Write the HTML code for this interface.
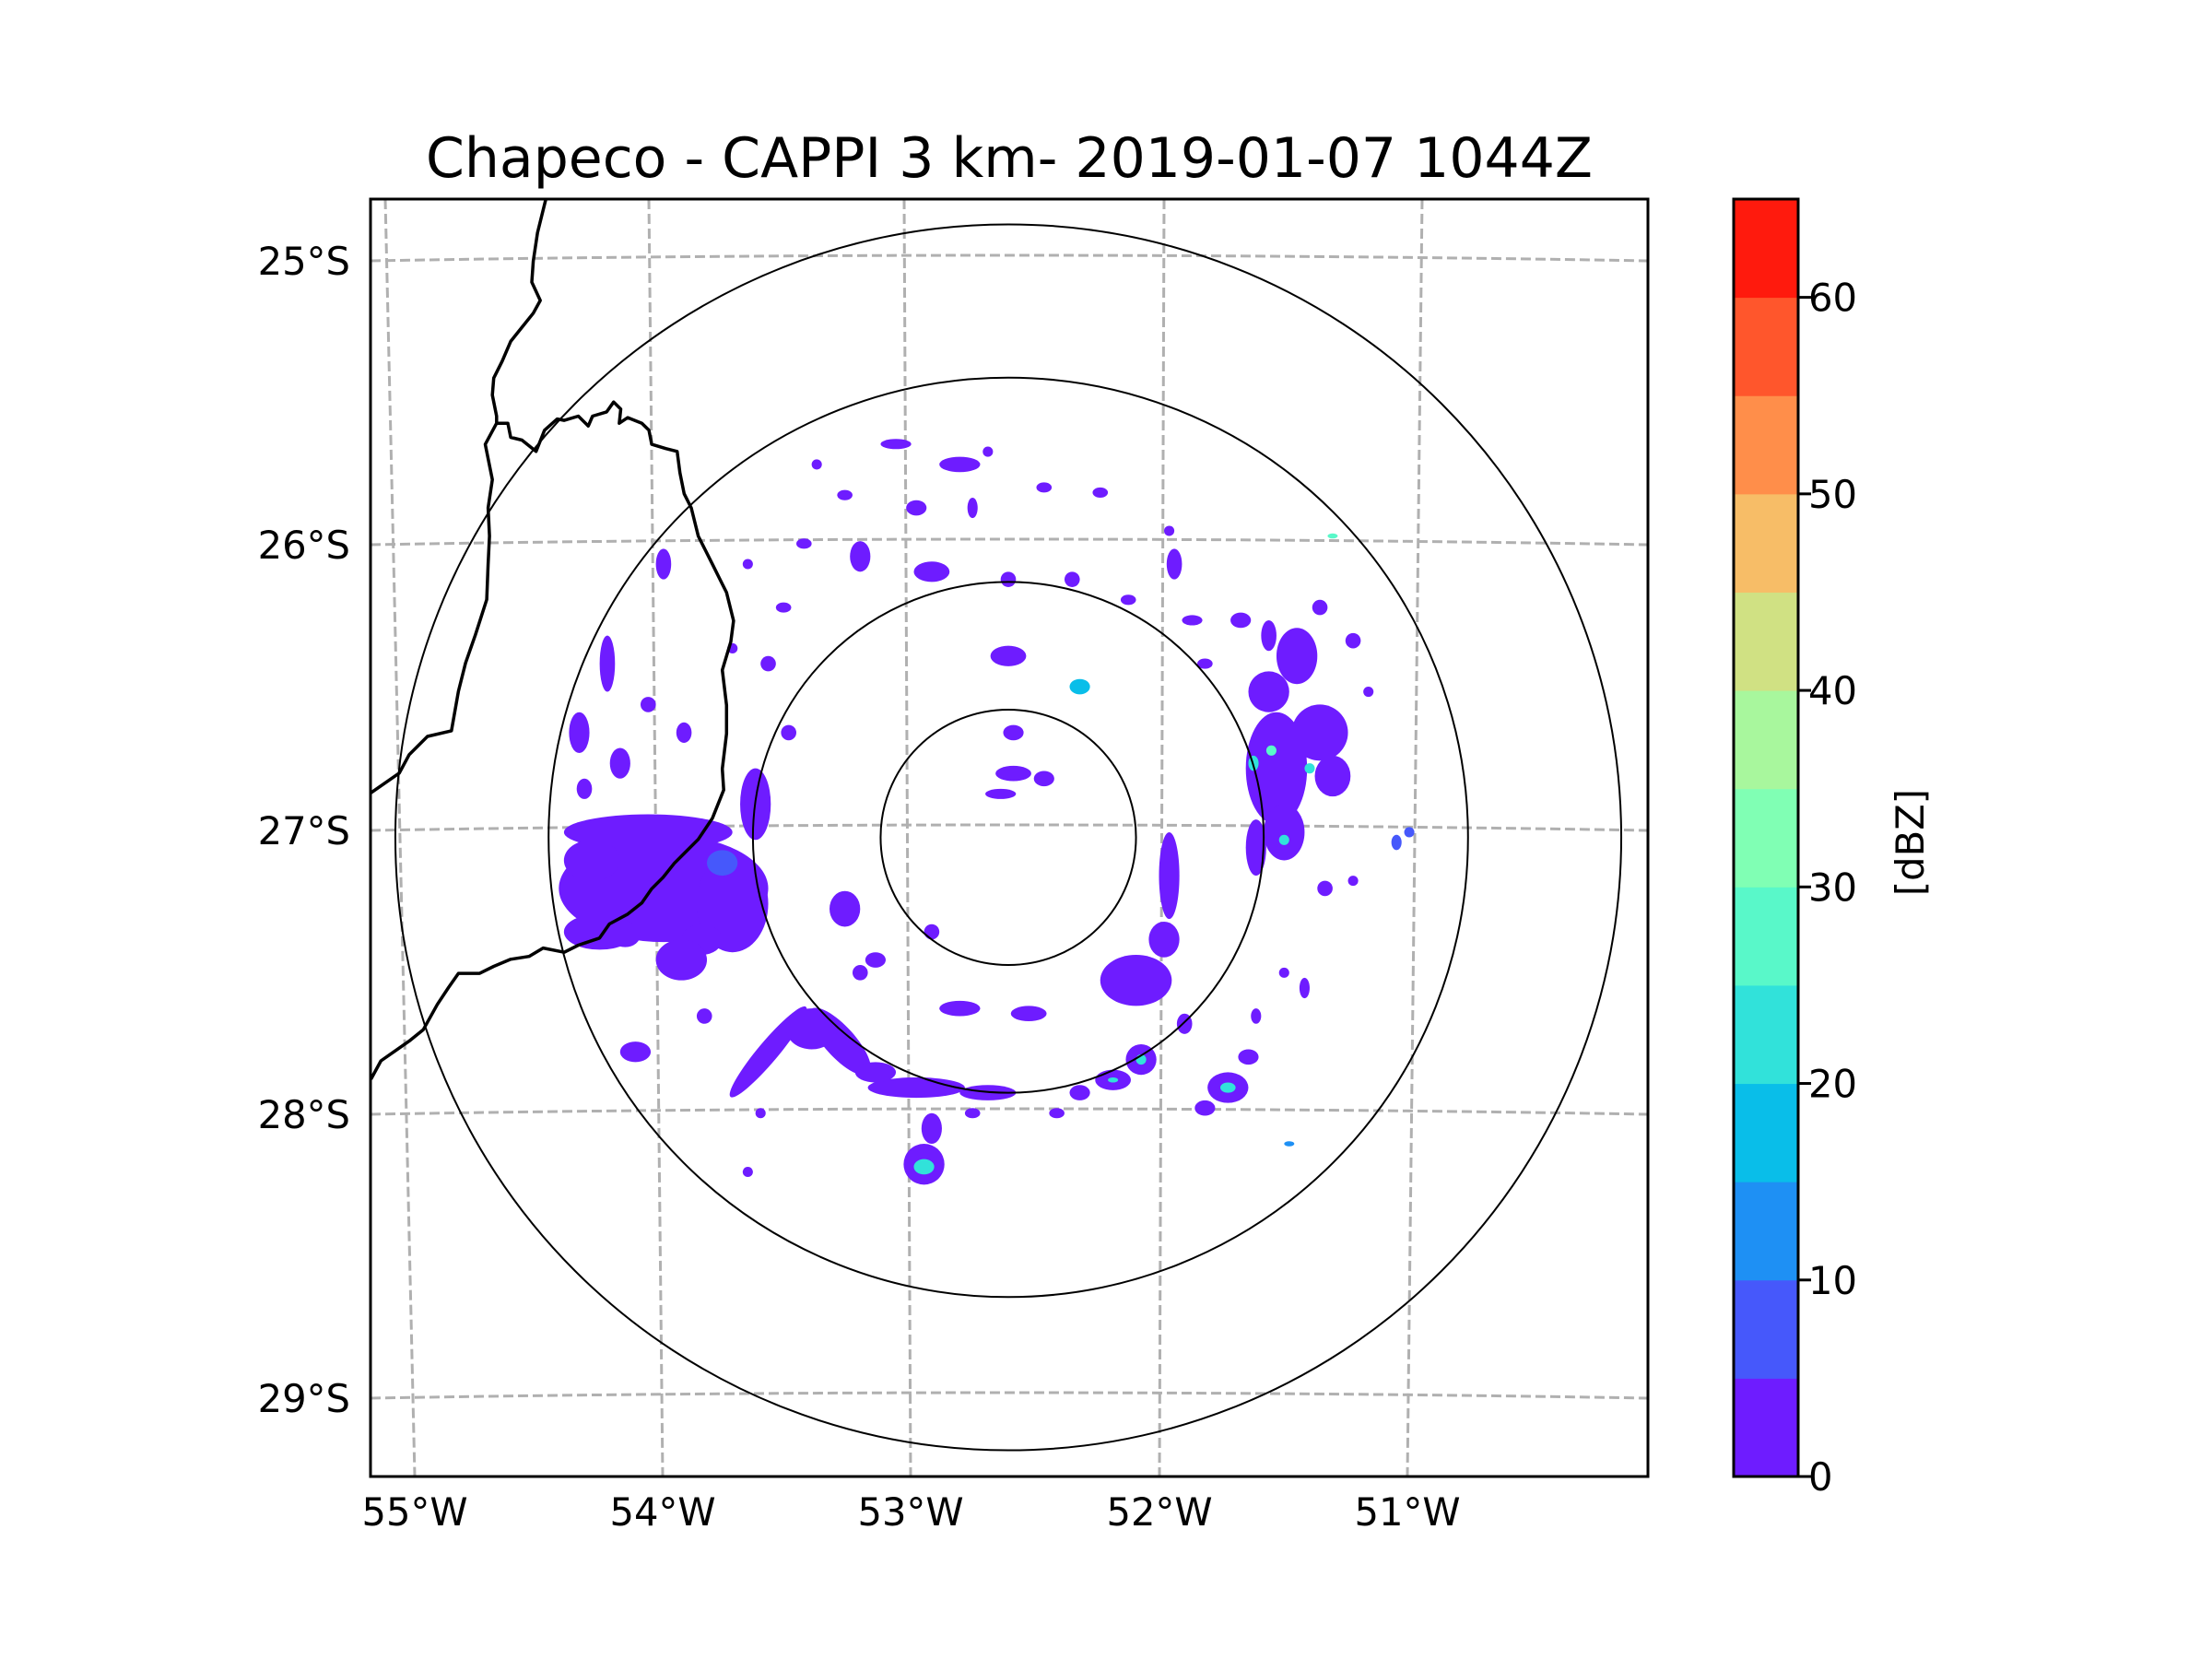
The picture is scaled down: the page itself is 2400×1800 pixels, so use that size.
<!DOCTYPE html>
<html><head><meta charset="utf-8">
<style>
html,body{margin:0;padding:0;background:#fff;}
svg{display:block;font-family:"DejaVu Sans","Liberation Sans",sans-serif;}
</style></head>
<body>
<svg id="fig" width="2400" height="1800" viewBox="0 0 2400 1800" xmlns="http://www.w3.org/2000/svg">
<rect width="2400" height="1800" fill="#fff"/>
<text x="1095" y="192" font-size="60" text-anchor="middle">Chapeco - CAPPI 3 km- 2019-01-07 1044Z</text>
<defs><clipPath id="axclip"><rect x="402" y="216" width="1386" height="1386"/></clipPath></defs>
<g id="grid" clip-path="url(#axclip)"></g>
<g id="echoes" clip-path="url(#axclip)"></g>
<g id="borders" clip-path="url(#axclip)"></g>
<g id="rings" clip-path="url(#axclip)"></g>
<rect x="402" y="216" width="1386" height="1386" fill="none" stroke="#000" stroke-width="3"/>
<g id="labels"></g>
<g id="cbar"></g>
<text transform="translate(2087,914) rotate(-90)" font-size="41.7" text-anchor="middle">[dBZ]</text>
</svg>
<script>
// ---- data ----
const latLabels = ["25°S","26°S","27°S","28°S","29°S"];
const lonLabels = ["55°W","54°W","53°W","52°W","51°W"];
const cbarLevels = [0,5,10,15,20,25,30,35,40,45,50,55,60,65];
const cbarTicks = [0,10,20,30,40,50,60];
const ringRadiiKm = [50,100,180,240];
// echoes: [east km, north km, rx km, ry km, dBZ, rotation deg]
const echoX = [-135,-141,-160,-163,-108,-99,-168,-157,-152,-166,-135,-127,-141,-94,-66,-77,-33,-33,-30,-36,-8,-52,-64,-58,-19,8,-146,105,108,122,102,127,97,96,108,103,118,91,113,102,122,135,141,72,77,50,63,61,52,41,28,86,94,77,69,110,97,108,124,135,116,0,28,2,2,14,-3,-58,-30,0,-44,-19,-64,-36,14,36,65,63,-80,-88,-94,-108,25,47,-75,-8,-14,-86,-102,152,157,127,-119,-97,-102,-14,19,-52,-30,-120,-150,-128,-112,52,41,86];
const echoY = [-20,2,-37,-9,-26,13,41,68,29,19,107,41,52,-84,-80,-75,-128,-129,-114,-98,-100,-92,-28,-53,-67,-69,-84,27,2,41,57,24,-4,29,-1,34,27,85,71,79,90,77,57,85,68,-56,-15,-40,-87,-95,-100,-98,-86,-106,-73,-120,-70,-53,-20,-17,-59,71,59,41,25,23,17,110,104,101,154,146,134,129,137,135,107,120,115,90,68,74,101,93,146,151,129,41,107,-2,2,118,-70,-108,-131,-108,-108,-48,-37,-40,-38,-48,-10,-87,-95,-98];
const echoRx = [41,33,14,11,14,6,4,3,4,3,3,3,3,23,17,10,8,4,4,19,11,8,6,3,8,7,6,12,8,11,8,7,4,2,2,2,2,4,8,3,3,3,2,4,3,14,4,6,6,7,4,8,4,4,3,2,2,2,3,2,2,7,4,4,7,4,6,4,7,3,6,8,3,4,3,3,3,2,3,3,3,2,3,3,2,2,2,3,2,2,2,2,3,2,2,3,3,4,3,8,6,10,6,2,2,3];
const echoRy = [21,7,7,8,19,14,8,11,6,4,6,4,3,4,6,8,8,3,6,4,3,4,7,3,3,3,4,22,11,11,8,8,11,3,2,2,2,3,11,6,3,3,2,2,2,10,17,7,6,4,3,6,3,3,4,1,3,2,3,2,4,4,3,3,3,3,2,6,4,3,2,3,2,3,2,2,6,2,2,2,3,2,3,2,2,2,4,3,2,3,2,1,3,2,2,2,2,3,3,6,5,8,5,2,1,2];
const echoDbz = [2,2,2,2,2,2,2,2,2,2,2,2,2,2,2,2,2,24,2,2,2,2,2,2,2,2,2,4,2,2,2,2,2,20,20,25,22,2,2,2,2,2,2,2,2,2,2,2,2,2,2,2,2,2,2,10,2,2,2,2,2,2,18,2,2,2,2,2,2,2,2,2,2,2,2,2,2,2,2,2,2,2,2,2,2,2,2,2,2,8,8,25,2,2,2,2,2,2,2,2,2,2,8,20,20,22];
const echoRot = [0,0,0,0,0,0,0,0,0,0,0,0,0,130,48,0,0,0,0,0,0,0,0,0,0,0,0,0,0,0,0,0,0,0,0,0,0,0,0,0,0,0,0,0,0,0,0,0,0,0,0,0,0,0,0,0,0,0,0,0,0,0,0,0,0,0,0,0,0,0,0,0,0,0,0,0,0,0,0,0,0,0,0,0,0,0,0,0,0,0,0,0,0,0,0,0,0,0,0,0,0,0,0,0,0,0];
// borders (display-scale geographic traces)
const borderA = [[387,141],[381,165],[378,185],[377,200],[383,213],[378,222],[370,232],[362,242],[356,256],[350,268],[349,280],[352,295],[352,300],[344,315],[349,340],[346,360],[347,380],[346,400],[345,425],[337,450],[330,470],[325,490],[320,518],[303,522],[290,535],[283,548],[263,562]];
const borderB = [[352,300],[360,300],[362,310],[370,312],[380,320],[382,315],[386,305],[395,297],[400,298],[410,295],[417,302],[420,295],[430,292],[435,285],[440,290],[439,300],[445,296],[455,300],[460,305],[462,315],[472,318],[480,320],[482,335],[485,350],[490,360],[495,380],[500,390],[505,400],[510,410],[515,420],[520,440],[518,455],[512,475],[515,500],[515,520],[512,545],[513,560],[505,580],[495,595],[485,605],[478,612],[470,622],[462,630],[455,640],[445,648],[432,655],[425,665],[410,670],[400,675],[385,672],[375,678],[362,680],[350,685],[340,690],[325,690],[318,700],[310,712],[300,730],[290,738],[280,745],[270,752],[263,765]];

// ---- scales ----
const AX={l:402,r:1788,t:216,b:1602};
const CX=1094, CY=908.5, PXKM=2.771;
const kx=v=>CX+v*PXKM, ky=v=>CY-v*PXKM;
const latEdgeY=[283,591,901,1209,1517];
const lonTop=[418,704,981,1263,1543], lonBot=[450,719,988,1258,1527];
const S=1.5306;
function colorFor(i){const n=cbarLevels.length-2;const x=0.035+i*(0.933/n);
  const r=Math.min(1,Math.abs(2*x-0.5)),g=Math.sin(Math.PI*x),b=Math.cos(Math.PI*x/2);
  const h=v=>Math.round(Math.max(0,Math.min(1,v))*255).toString(16).padStart(2,'0');return '#'+h(r)+h(g)+h(b);}
const NS='http://www.w3.org/2000/svg';
function mk(tag,attrs,parent){const e=document.createElementNS(NS,tag);for(const k in attrs)e.setAttribute(k,attrs[k]);parent.appendChild(e);return e;}

// grid
const grid=document.getElementById('grid');
latEdgeY.forEach((y,i)=>{const e=mk('path',{d:`M${AX.l} ${y} Q${CX} ${y-12} ${AX.r} ${y}`,fill:'none',stroke:'#b0b0b0','stroke-width':3,'stroke-dasharray':'11 5'},grid);
  
  });
lonTop.forEach((x,i)=>{const e=mk('line',{x1:x,y1:AX.t,x2:lonBot[i],y2:AX.b,stroke:'#b0b0b0','stroke-width':3,'stroke-dasharray':'11 5'},grid);
  
  });

// echoes
const eg=document.getElementById('echoes');
echoX.forEach((v,i)=>{const lvl=Math.min(12,Math.floor(echoDbz[i]/5));
  const e=mk('ellipse',{cx:kx(v),cy:ky(echoY[i]),rx:echoRx[i]*PXKM,ry:echoRy[i]*PXKM,fill:colorFor(lvl),
    transform:`rotate(${echoRot[i]} ${kx(v)} ${ky(echoY[i])})`},eg);
  
  });

// borders
const bg=document.getElementById('borders');
[borderA,borderB].forEach(pts=>{const e=mk('polyline',{points:pts.map(p=>(p[0]*S).toFixed(1)+','+(p[1]*S).toFixed(1)).join(' '),fill:'none',stroke:'#000','stroke-width':3.5,'stroke-linejoin':'round'},bg);
  
  });

// rings
const rg=document.getElementById('rings');
ringRadiiKm.forEach(r=>{const e=mk('circle',{cx:CX,cy:CY,r:r*PXKM,fill:'none',stroke:'#000','stroke-width':2},rg);
  
  });

// labels
const lg=document.getElementById('labels');
latLabels.forEach((t,i)=>{const e=mk('text',{x:380,y:latEdgeY[i]+15,'font-size':41.7,'text-anchor':'end'},lg);e.textContent=t;
  
  });
lonLabels.forEach((t,i)=>{const e=mk('text',{x:lonBot[i],y:1655,'font-size':41.7,'text-anchor':'middle'},lg);e.textContent=t;
  
  });

// colorbar
const cb=document.getElementById('cbar');
const CB={l:1881,r:1951,t:216,b:1602};
const cy=v=>CB.b-(v-cbarLevels[0])/(cbarLevels[cbarLevels.length-1]-cbarLevels[0])*(CB.b-CB.t);
for(let i=0;i<cbarLevels.length-1;i++){const y1=cy(cbarLevels[i+1]),y0=cy(cbarLevels[i]);
  const e=mk('rect',{x:CB.l,y:y1,width:CB.r-CB.l,height:y0-y1+0.5,fill:colorFor(i)},cb);
  
  }
const fr=mk('rect',{x:CB.l,y:CB.t,width:CB.r-CB.l,height:CB.b-CB.t,fill:'none',stroke:'#000','stroke-width':3},cb);


cbarTicks.forEach(v=>{const y=cy(v);
  const t=mk('line',{x1:CB.r,y1:y,x2:CB.r+14,y2:y,stroke:'#000','stroke-width':3},cb);
  
  
  const e=mk('text',{x:1962,y:y+15,'font-size':41.7},cb);e.textContent=String(v);
  
  });
</script>
</body></html>
